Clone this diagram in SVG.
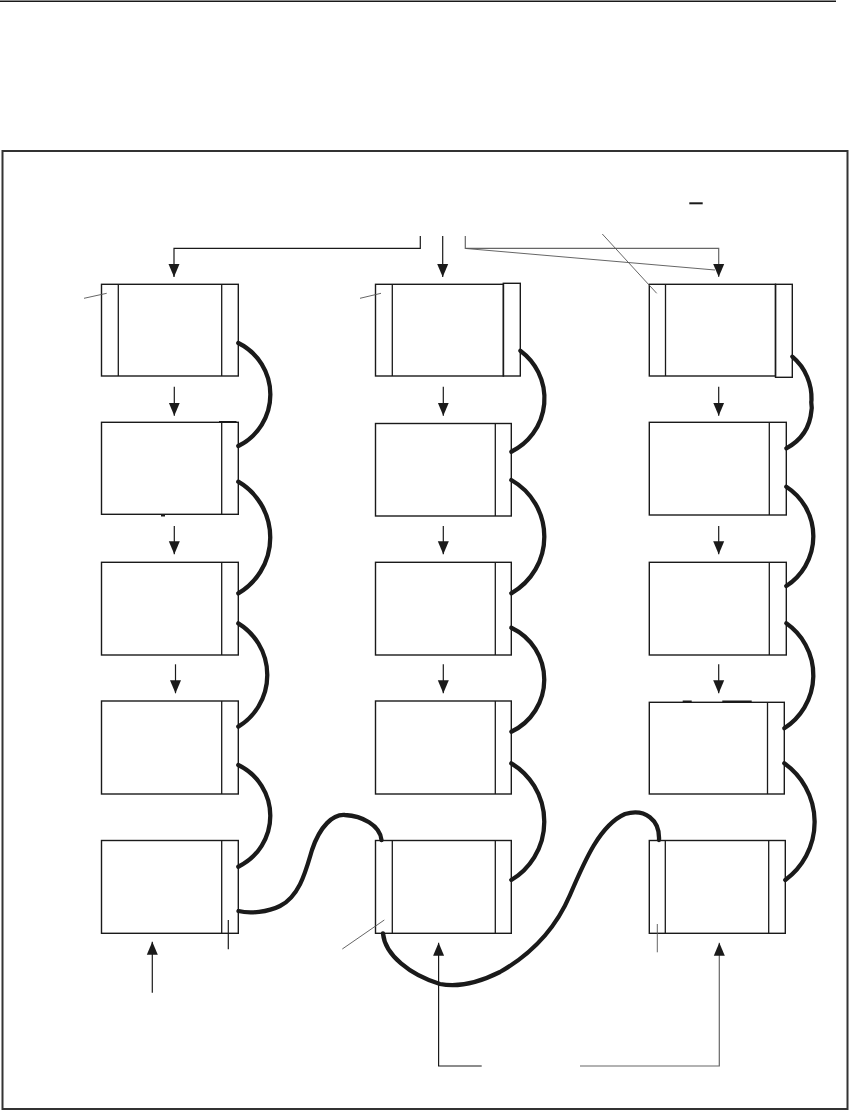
<svg xmlns="http://www.w3.org/2000/svg" width="852" height="1113" viewBox="0 0 852 1113">
<defs>
<style>
.box{fill:none;stroke:#1a1a1a;stroke-width:1.4}
.div{stroke:#1a1a1a;stroke-width:1.3}
.arr{fill:none;stroke:#1a1a1a;stroke-width:1.2}
.garr{fill:none;stroke:#666;stroke-width:1.2}
.cable{fill:none;stroke:#1a1a1a;stroke-width:4.3;stroke-linecap:round;stroke-linejoin:round}
.lead{stroke:#555;stroke-width:0.9;fill:none}
.tick{stroke:#1a1a1a;stroke-width:2}
.frame{fill:none;stroke:#333;stroke-width:2}
</style>
<marker id="ah" markerUnits="userSpaceOnUse" markerWidth="13" markerHeight="12" viewBox="0 0 13 12" refX="13" refY="6" orient="auto">
<path d="M0,0.5 L13,6 L0,11.5 z" fill="#1a1a1a"/>
</marker>
</defs>
<rect width="852" height="1113" fill="#fff"/>
<line x1="0" y1="1.2" x2="836" y2="1.2" stroke="#1a1a1a" stroke-width="1.6"/>
<rect class="frame" x="2.5" y="151" width="845" height="958"/>

<g id="L1"><rect class="box" x="101.5" y="284.3" width="136.8" height="91.7"/><line class="div" x1="118.3" y1="284.3" x2="118.3" y2="376"/><line class="div" x1="221.7" y1="284.3" x2="221.7" y2="376"/></g>
<g id="L2"><rect class="box" x="101.5" y="422.3" width="136.8" height="92"/><line class="div" x1="221.7" y1="422.3" x2="221.7" y2="514.3"/><line class="tick" x1="219" y1="422" x2="236.5" y2="422"/><line class="tick" x1="161" y1="515.5" x2="165" y2="515.5"/></g>
<g id="L3"><rect class="box" x="101.5" y="562.3" width="136.8" height="92.7"/><line class="div" x1="221.7" y1="562.3" x2="221.7" y2="655"/></g>
<g id="L4"><rect class="box" x="101.5" y="701" width="136.8" height="93"/><line class="div" x1="221.7" y1="701" x2="221.7" y2="794"/></g>
<g id="L5"><rect class="box" x="101.5" y="840.5" width="136.8" height="92.8"/><line class="div" x1="221.7" y1="840.5" x2="221.7" y2="933.3"/></g>

<g id="M1"><rect class="box" x="375.5" y="284.3" width="128" height="91.7"/><rect class="box" x="503.3" y="283.3" width="17" height="92.7"/><line class="div" x1="392.3" y1="284.3" x2="392.3" y2="376"/></g>
<g id="M2"><rect class="box" x="375.5" y="423.5" width="135.8" height="92.5"/><line class="div" x1="495.3" y1="423.5" x2="495.3" y2="516"/></g>
<g id="M3"><rect class="box" x="375.5" y="562.3" width="135.8" height="92.7"/><line class="div" x1="495.3" y1="562.3" x2="495.3" y2="655"/></g>
<g id="M4"><rect class="box" x="375.5" y="701" width="135.8" height="93"/><line class="div" x1="495.3" y1="701" x2="495.3" y2="794"/></g>
<g id="M5"><rect class="box" x="375.5" y="840.5" width="135.8" height="92.8"/><line class="div" x1="392.3" y1="840.5" x2="392.3" y2="933.3"/><line class="div" x1="495.3" y1="840.5" x2="495.3" y2="933.3"/></g>

<g id="R1"><rect class="box" x="649.3" y="284.3" width="126.2" height="91.7"/><rect class="box" x="775.5" y="284.3" width="16.8" height="93"/><line class="div" x1="665.5" y1="284.3" x2="665.5" y2="376"/></g>
<g id="R2"><rect class="box" x="649.3" y="422.3" width="137" height="92.7"/><line class="div" x1="769.3" y1="422.3" x2="769.3" y2="515"/></g>
<g id="R3"><rect class="box" x="649.3" y="562.3" width="137" height="92.7"/><line class="div" x1="769.3" y1="562.3" x2="769.3" y2="655"/></g>
<g id="R4"><rect class="box" x="649.3" y="702.3" width="135" height="91.7"/><line class="div" x1="767.5" y1="702.3" x2="767.5" y2="794"/><line class="tick" x1="682.7" y1="701.5" x2="691.7" y2="701.5"/><line class="tick" x1="722.3" y1="701.5" x2="751.7" y2="701.5"/></g>
<g id="R5"><rect class="box" x="649.3" y="840.5" width="136" height="92.8"/><line class="div" x1="665.3" y1="840.5" x2="665.3" y2="933.3"/><line class="div" x1="768.7" y1="840.5" x2="768.7" y2="933.3"/></g>

<g id="connectors">
<polyline class="arr" points="420.3,236 420.3,248.3 174,248.3 174,277" marker-end="url(#ah)"/>
<line class="arr" x1="442.7" y1="236" x2="442.7" y2="277" marker-end="url(#ah)"/>
<polyline class="garr" points="465.3,236 465.3,248.3 718.7,248.3 718.7,277" marker-end="url(#ah)"/>
<line class="lead" x1="466" y1="248.5" x2="715" y2="270"/>

<line class="arr" x1="174.3" y1="386.7" x2="174.3" y2="415.7" marker-end="url(#ah)"/>
<line class="arr" x1="174.3" y1="526" x2="174.3" y2="554.3" marker-end="url(#ah)"/>
<line class="arr" x1="175.5" y1="664.3" x2="175.5" y2="693.3" marker-end="url(#ah)"/>
<line class="arr" x1="443.3" y1="386.7" x2="443.3" y2="415.7" marker-end="url(#ah)"/>
<line class="arr" x1="443.3" y1="526" x2="443.3" y2="554.3" marker-end="url(#ah)"/>
<line class="arr" x1="443.3" y1="664.3" x2="443.3" y2="693.3" marker-end="url(#ah)"/>
<line class="arr" x1="718.7" y1="386.7" x2="718.7" y2="415.7" marker-end="url(#ah)"/>
<line class="arr" x1="718.7" y1="526" x2="718.7" y2="554.3" marker-end="url(#ah)"/>
<line class="arr" x1="718.7" y1="664.3" x2="718.7" y2="693.3" marker-end="url(#ah)"/>

<line class="arr" x1="152.3" y1="992.7" x2="152.3" y2="941.7" marker-end="url(#ah)"/>
<polyline class="arr" points="481.7,1066 438.6,1066 438.6,942.7" marker-end="url(#ah)"/>
<polyline class="garr" points="580,1066 719.3,1066 719.3,942.7" marker-end="url(#ah)"/>

<path class="cable" d="M238.3,343 A57.4,57.4 0 0 1 238.3,446"/>
<path class="cable" d="M238.3,481.7 A64.7,64.7 0 0 1 238.3,593.3"/>
<path class="cable" d="M238.3,623.3 A60.6,60.6 0 0 1 238.3,726.7"/>
<path class="cable" d="M238.3,765 A56.4,56.4 0 0 1 238.3,866.7"/>
<path class="cable" d="M520.3,350.7 A59.3,59.3 0 0 1 511.3,451.7"/>
<path class="cable" d="M511.3,480 A65.1,65.1 0 0 1 511.3,593.3"/>
<path class="cable" d="M511.3,627.7 A57.5,57.5 0 0 1 511.3,731.7"/>
<path class="cable" d="M511.3,763.3 A68.1,68.1 0 0 1 511.3,880"/>
<path class="cable" d="M792.3,356.7 C806,368 812,385 811.5,400 C810.5,404 812.5,406 811.5,410 C810,428 800,441 786.3,448.3"/>
<path class="cable" d="M786.3,486.7 A59.1,59.1 0 0 1 786.3,586"/>
<path class="cable" d="M786.3,623.3 A63.2,63.2 0 0 1 784.3,728.3"/>
<path class="cable" d="M784.3,763.3 A72,72 0 0 1 785.3,880"/>
<path class="cable" d="M238.5,911 C250,914 268,912 280,906 C300,896 306,870 312,850 C320,826 333,814 345,815 C362,816 380,825 381.5,840"/>
<path class="cable" d="M383,933.5 C385,955 410,975 440,984 C460,988 480,982 500,972 C530,955 555,930 570,895 C585,860 600,825 625,814 C645,808 660,820 659,840"/>

<line class="lead" x1="84" y1="298.3" x2="106.7" y2="293.3"/>
<line class="lead" x1="360" y1="298.3" x2="381" y2="293.3"/>
<line class="lead" x1="602.3" y1="234" x2="656.7" y2="293.3" stroke="#333"/>
<line class="tick" x1="689.3" y1="203.3" x2="702.7" y2="203.3" stroke-width="1.4"/>
<line class="arr" x1="228.3" y1="920" x2="228.3" y2="949.3"/>
<line class="lead" x1="342.3" y1="949" x2="384.3" y2="920" stroke="#333"/>
<line class="lead" x1="657.3" y1="924" x2="657.3" y2="952.3" stroke="#999" stroke-width="1.2"/>
</g>
</svg>
